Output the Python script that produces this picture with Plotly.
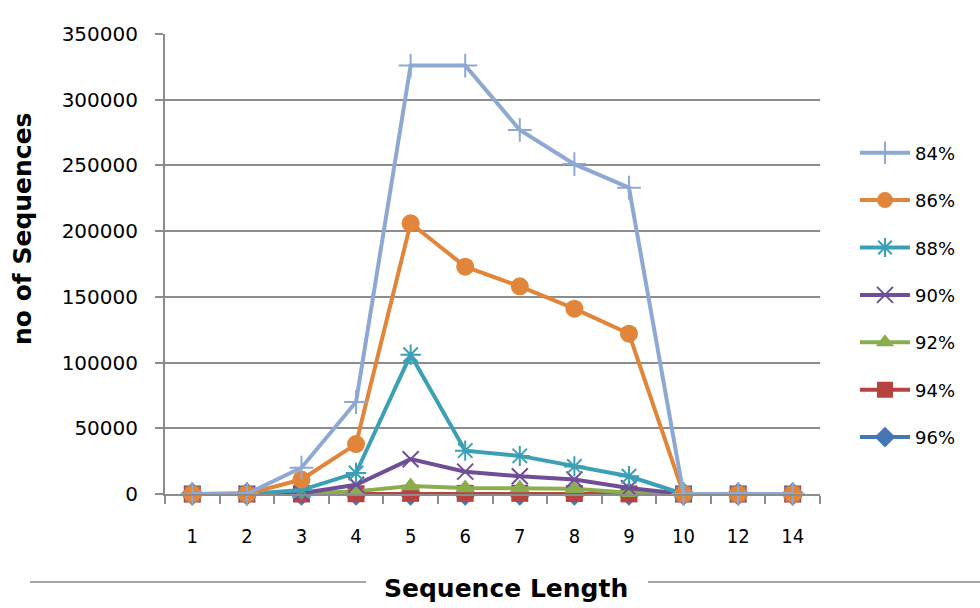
import plotly.graph_objects as go

# ---- data ----
categories = ['1', '2', '3', '4', '5', '6', '7', '8', '9', '10', '12', '14']
series_names = ['84%', '86%', '88%', '90%', '92%', '94%', '96%']
s84 = [0, 0, 20000, 70000, 326000, 326000, 277000, 251000, 233000, 0, 0, 0]
s86 = [0, 0, 11000, 38000, 206000, 173000, 158000, 141000, 122000, 0, 0, 0]
s88 = [0, 0, 3000, 16000, 106000, 33000, 29000, 21000, 13500, 0, 0, 0]
s90 = [0, 0, 500, 7000, 26500, 17000, 13500, 11000, 4500, 0, 0, 0]
s92 = [0, 0, 200, 2000, 6000, 4500, 4500, 4000, 1000, 0, 0, 0]
s94 = [0, 0, 0, 200, 500, 500, 500, 400, 100, 0, 0, 0]
s96 = [0, 0, 0, 0, 0, 0, 0, 0, 0, 0, 0, 0]
series_values = [s84, s86, s88, s90, s92, s94, s96]
y_ticks = [0, 50000, 100000, 150000, 200000, 250000, 300000, 350000]

# ---- styles ----
colors = ['#8EA8D4', '#E0853A', '#3BA0B5', '#6F4E96', '#8AAE4E', '#B8423F', '#4677B5']
symbols = ['cross-thin', 'circle', 'asterisk', 'x-thin', 'triangle-up', 'square', 'diamond']
sizes = [17, 18, 17, 16, 17, 17, 18]

W, H = 980, 608
L, R, T, B = 165, 160, 34, 114
PW, PH = W - L - R, H - T - B


def px_x(x):
    return (x - L) / PW


def px_y(y):
    return (H - B - y) / PH


fig = go.Figure()
# Excel draws the first series on top -> add in reverse
for i in reversed(range(len(series_names))):
    sym = symbols[i]
    thin = sym in ('cross-thin', 'asterisk', 'x-thin')
    fig.add_trace(go.Scatter(
        x=categories, y=series_values[i], name=series_names[i],
        mode='lines+markers', legendgroup=series_names[i], legendrank=i + 1,
        cliponaxis=False,
        line=dict(color=colors[i], width=4),
        marker=dict(symbol=sym, size=sizes[i], color=colors[i],
                    line=dict(color=colors[i], width=2 if thin else 0)),
    ))

fig.update_layout(
    width=W, height=H,
    margin=dict(l=L, r=R, t=T, b=B, autoexpand=False),
    paper_bgcolor='white', plot_bgcolor='white',
    font=dict(family='DejaVu Sans', color='black'),
    showlegend=True,
    legend=dict(
        x=px_x(855), xanchor='left', y=px_y(295), yanchor='middle',
        traceorder='grouped', tracegroupgap=21,
        font=dict(size=18, family='DejaVu Sans', color='black'),
        bgcolor='rgba(0,0,0,0)', itemwidth=50,
    ),
    xaxis=dict(
        type='category', categoryorder='array', categoryarray=categories,
        range=[-0.5, len(categories) - 0.5],
        tickson='boundaries', ticks='outside', ticklen=8, tickwidth=1.5,
        tickcolor='#8c8c8c', showline=True, linecolor='#8c8c8c', linewidth=2,
        showgrid=False, zeroline=False,
        tickfont=dict(size=20, family='DejaVu Sans Condensed, DejaVu Sans', color='black'),
        ticklabelstandoff=23,
    ),
    yaxis=dict(
        range=[0, 350000], tickvals=y_ticks, tickformat='d',
        ticks='outside', ticklen=8, tickwidth=1.5, tickcolor='#8c8c8c',
        showline=True, linecolor='#8c8c8c', linewidth=2,
        showgrid=True, gridcolor='#8c8c8c', gridwidth=2, zeroline=False,
        tickfont=dict(size=20, family='DejaVu Sans', color='black'),
        ticklabelstandoff=13,
    ),
    annotations=[
        dict(text='<b>no of Sequences</b>', textangle=-90, xref='paper', yref='paper',
             x=px_x(22), y=px_y(229), xanchor='center', yanchor='middle', showarrow=False,
             font=dict(size=25, family='DejaVu Sans', color='black')),
        dict(text='<b>Sequence Length</b>', xref='paper', yref='paper',
             x=px_x(506), y=px_y(588), xanchor='center', yanchor='middle', showarrow=False,
             font=dict(size=25, family='DejaVu Sans', color='black')),
    ],
    shapes=[
        dict(type='line', xref='paper', yref='paper', x0=px_x(30), x1=px_x(366),
             y0=px_y(582), y1=px_y(582), line=dict(color='#a6a6a6', width=2)),
        dict(type='line', xref='paper', yref='paper', x0=px_x(648), x1=px_x(980),
             y0=px_y(582), y1=px_y(582), line=dict(color='#a6a6a6', width=2)),
    ],
)

fig.write_html('out.html')
